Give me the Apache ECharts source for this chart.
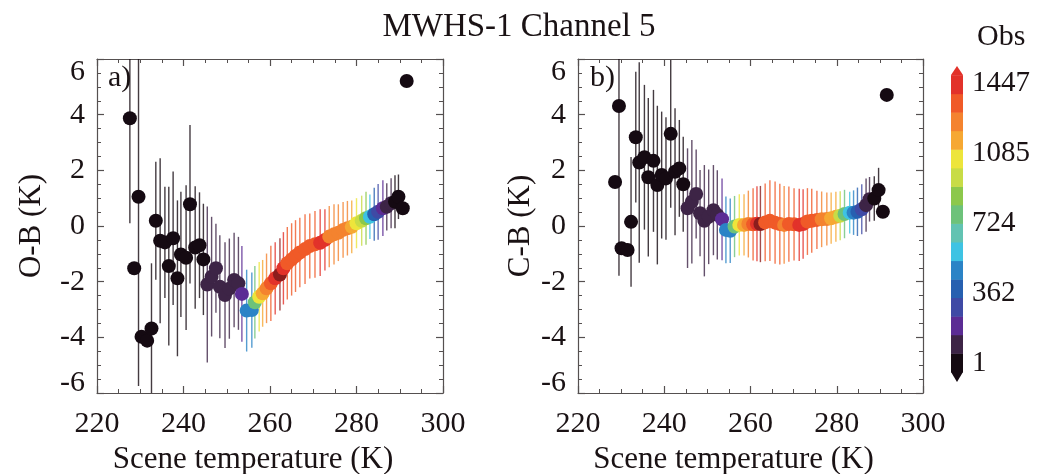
<!DOCTYPE html>
<html>
<head>
<meta charset="utf-8">
<script src="https://cdn.jsdelivr.net/npm/echarts@6.0.0/dist/echarts.min.js"></script>
<style>
  html, body { margin: 0; padding: 0; background: #fff; }
  #chart { width: 1038px; height: 474px; }
</style>
</head>
<body>
<div id="chart"></div>
<script>
// ---------------- DATA ----------------
// Panel a) O-B
const tempA = [227.6, 228.6, 229.6, 230.3, 231.6, 232.6, 233.6, 234.6, 235.7, 236.6, 237.6, 238.6, 239.4, 240.6,
  241.5, 242.7, 243.7, 244.6, 245.5, 246.5, 247.5, 248.4, 249.6, 250.6, 251.7, 252.7, 253.5, 254.6, 255.8,
  256.5, 257.5, 258.3, 259.2, 260.2, 261.2, 262.3, 263.1, 264.0, 265.0, 265.9, 266.9, 268.1, 269.2, 270.4,
  271.6, 272.7, 273.7, 274.8, 275.8, 276.9, 277.9, 278.9, 280.0, 281.2, 282.2, 283.1, 284.1, 285.0, 286.1,
  287.0, 288.0, 288.9, 289.7, 290.7, 291.6];
const obA = [3.87, -1.52, 1.05, -3.98, -4.12, -3.68, 0.19, -0.53, -0.59, -1.44, -0.44, -1.88, -1.02, -1.14,
  0.78, -0.77, -0.69, -1.20, -2.10, -1.82, -1.52, -2.18, -2.48, -2.25, -1.94, -2.06, -2.44, -3.04, -3.02,
  -2.74, -2.54, -2.42, -2.24, -2.06, -1.88, -1.74, -1.52, -1.34, -1.20, -1.08, -0.95, -0.83, -0.72, -0.66,
  -0.60, -0.50, -0.38, -0.30, -0.24, -0.14, -0.08, -0.03, 0.10, 0.19, 0.28, 0.33, 0.42, 0.51, 0.64,
  0.69, 0.82, 0.87, 1.05, 0.64, 5.21];
const errA = [3.77, 0, 6.8, 0, 0, 2.34, 2.12, 2.96, 2.0, 2.85, 2.4, 2.8, 2.25, 2.6,
  2.85, 2.2, 1.9, 2.0, 2.8, 2.15, 1.6, 1.85, 1.9, 1.8, 1.7, 1.67, 1.72, 1.47, 1.35,
  1.3, 1.25, 1.2, 1.25, 1.35, 1.3, 1.3, 1.3, 1.3, 1.3, 1.29, 1.25, 1.25, 1.17, 1.2,
  1.2, 1.1, 1.1, 1.08, 1.02, 1.0, 0.98, 0.95, 0.9, 0.9, 0.95, 0.8, 0.95, 1.0, 1.0,
  0.85, 0.9, 0.95, 0.8, 0, 0];
const obsA = [3, 1, 2, 2, 3, 4, 5, 8, 10, 12, 15, 18, 20, 22,
  25, 30, 35, 45, 60, 70, 80, 90, 100, 110, 120, 140, 220, 460, 500,
  770, 1050, 1150, 1250, 1340, 1430, 1500, 1430, 1350, 1340, 1330, 1320, 1300, 1310, 1350,
  1420, 1400, 1250, 1260, 1250, 1240, 1220, 1150, 1050, 950, 860, 580, 400, 300, 200,
  100, 60, 30, 15, 5, 1];

// Panel b) C-B
const tempB = [228.6, 229.5, 230.1, 231.5, 232.3, 233.4, 234.2, 235.4, 236.3, 237.5, 238.4, 239.4, 240.4, 241.5,
  242.5, 243.5, 244.4, 245.4, 246.4, 247.4, 248.3, 249.3, 250.3, 251.4, 252.3, 253.4, 254.3, 255.3, 256.3,
  257.4, 258.5, 259.5, 260.6, 261.5, 262.3, 263.4, 264.5, 265.7, 266.8, 267.8, 268.9, 270.1, 271.3, 272.2,
  273.2, 274.2, 275.4, 276.5, 277.7, 278.7, 279.8, 280.8, 281.8, 283.0, 283.9, 284.8, 285.8, 286.8, 287.6,
  288.7, 289.7, 290.7, 291.6];
const cbB = [1.58, 4.31, -0.80, -0.86, 0.15, 3.19, 2.28, 2.47, 1.75, 2.34, 1.47, 1.83, 1.71, 3.31,
  1.95, 2.07, 1.50, 0.64, 0.87, 1.15, 0.46, 0.19, 0.33, 0.57, 0.40, 0.24, -0.14, -0.17, -0.02,
  0.04, 0.04, 0.07, 0.06, 0.08, 0.07, 0.13, 0.19, 0.12, 0.07, 0.04, 0.07, 0.06, 0.04, 0.07,
  0.16, 0.19, 0.22, 0.24, 0.25, 0.28, 0.33, 0.37, 0.43, 0.48, 0.48, 0.51, 0.60, 0.75, 0.96,
  0.99, 1.29, 0.51, 4.71];
const errB = [0, 6.1, 0, 0, 2.33, 2.35, 3.6, 2.6, 2.85, 2.55, 2.85, 2.28, 2.2, 2.65,
  2.28, 1.74, 1.71, 2.15, 2.22, 1.6, 1.55, 2.0, 1.7, 1.62, 1.6, 1.47, 1.2, 1.16, 1.1,
  1.1, 1.1, 1.2, 1.3, 1.35, 1.37, 1.4, 1.45, 1.48, 1.45, 1.4, 1.35, 1.3, 1.3, 1.25,
  1.2, 1.15, 1.05, 1.0, 0.95, 0.92, 0.9, 0.88, 0.87, 0.75, 0.8, 0.87, 0.9, 0.96, 0.8,
  0.8, 0.8, 0, 0];
const obsB = [2, 3, 2, 2, 4, 5, 8, 10, 12, 15, 18, 20, 22, 25,
  30, 35, 45, 60, 70, 80, 90, 100, 110, 120, 140, 220, 460, 500, 770,
  1050, 1150, 1250, 1340, 1430, 1500, 1350, 1340, 1300, 1340, 1280, 1320, 1350, 1420, 1410,
  1350, 1340, 1300, 1280, 1250, 1200, 1120, 980, 780, 600, 450, 350, 250, 100, 60,
  30, 15, 5, 1];

// Colour bar (Obs) levels, bottom to top
const cbLevels = [-45, 51, 147, 243, 339, 434, 530, 626, 722, 818, 913, 1009, 1105, 1201, 1297, 1392, 1488];
const cbTicks = [1, 362, 724, 1085, 1447];
const cbTips = [-97, 1535];
const xTicksLabels = [220, 240, 260, 280, 300];

// ---------------- STYLE ----------------
const cbColors = ['#150a12', '#3d2446', '#5b2c94', '#3f4aa5', '#2760b0', '#2b83c6', '#3ec3e3', '#62c3b2',
  '#6dc27a', '#8cc84b', '#c8dc46', '#ede53b', '#f6a833', '#f4832f', '#f05a28', '#e2322a'];
const overColor = '#8c1d1d';
const FONT = 'Liberation Serif';
const TXT = '#1a1214';
const AX = '#555050';

const pieces = cbColors.map((c, i) => ({ gte: cbLevels[i], lt: cbLevels[i + 1], color: c }));
pieces.push({ gte: cbLevels[cbLevels.length - 1], color: overColor });

const dataA = tempA.map((t, i) => [t, obA[i], obsA[i], errA[i]]);
const dataB = tempB.map((t, i) => [t, cbB[i], obsB[i], errB[i]]);

function errRender(params, api) {
  const x = api.value(0), v = api.value(1), e = api.value(3);
  if (!e) return null;
  const p1 = api.coord([x, v + e]);
  const p2 = api.coord([x, v - e]);
  return {
    type: 'line',
    shape: { x1: p1[0], y1: p1[1], x2: p2[0], y2: p2[1] },
    style: { stroke: api.visual('color'), lineWidth: 1.4, opacity: 0.8 }
  };
}

function xAxes(gi) {
  const common = {
    gridIndex: gi, type: 'value', min: 220, max: 300, interval: 20,
    axisLine: { show: true, onZero: false, lineStyle: { color: AX, width: 1.2 } },
    axisTick: { show: true, inside: true, length: 7, lineStyle: { color: AX, width: 1.2 } },
    minorTick: { show: true, splitNumber: 4, length: 4, lineStyle: { color: AX, width: 1 } },
    splitLine: { show: false }
  };
  return [
    Object.assign({}, common, {
      position: 'bottom',
      axisLabel: { show: true, fontFamily: FONT, fontSize: 30, color: TXT, margin: 16,
        formatter: v => xTicksLabels.includes(v) ? String(v) : '' },
      name: 'Scene temperature (K)', nameLocation: 'middle', nameGap: 47,
      nameTextStyle: { fontFamily: FONT, fontSize: 31, color: TXT, padding: [0, 34, 0, 0] }
    }),
    Object.assign({}, common, { position: 'top', axisLabel: { show: false } })
  ];
}

function yAxes(gi, name, gap) {
  const common = {
    gridIndex: gi, type: 'value', min: -6, max: 6, interval: 2,
    axisLine: { show: true, onZero: false, lineStyle: { color: AX, width: 1.2 } },
    axisTick: { show: true, inside: true, length: 7, lineStyle: { color: AX, width: 1.2 } },
    minorTick: { show: true, splitNumber: 4, length: 4, lineStyle: { color: AX, width: 1 } },
    splitLine: { show: false }
  };
  const base = { fontFamily: FONT, fontSize: 30, color: TXT };
  return [
    Object.assign({}, common, {
      position: 'left',
      axisLabel: {
        show: true, margin: 12, fontFamily: FONT, fontSize: 30, color: TXT,
        formatter: v => v === 6 ? '{t|' + v + '}' : (v === -6 ? '{b|' + v + '}' : '{n|' + v + '}'),
        rich: {
          n: base,
          t: Object.assign({}, base, { padding: [26, 0, 0, 0] }),
          b: Object.assign({}, base, { padding: [0, 0, 20, 0] })
        }
      },
      name: name, nameLocation: 'middle', nameGap: gap,
      nameTextStyle: { fontFamily: FONT, fontSize: 31, color: TXT }
    }),
    Object.assign({}, common, { position: 'right', axisLabel: { show: false } })
  ];
}

const option = {
  backgroundColor: '#ffffff',
  animation: false,
  title: [
    { text: 'MWHS-1 Channel 5', left: 'center', top: 6,
      textStyle: { fontFamily: FONT, fontSize: 33, fontWeight: 'normal', color: TXT } },
    { text: 'Obs', left: 972, top: 17,
      textStyle: { fontFamily: FONT, fontSize: 30, fontWeight: 'normal', color: TXT } },
    { text: 'a)', left: 103, top: 58,
      textStyle: { fontFamily: FONT, fontSize: 30, fontWeight: 'normal', color: TXT } },
    { text: 'b)', left: 585, top: 58,
      textStyle: { fontFamily: FONT, fontSize: 30, fontWeight: 'normal', color: TXT } }
  ],
  grid: [
    { left: 97, top: 59, width: 346, height: 334, containLabel: false, outerBoundsMode: 'none' },
    { left: 578, top: 59, width: 345, height: 334, containLabel: false, outerBoundsMode: 'none' },
    { left: 951, top: 66, width: 12, height: 316, containLabel: false, outerBoundsMode: 'none' }
  ],
  xAxis: [].concat(xAxes(0), xAxes(1), [{ gridIndex: 2, type: 'value', min: 0, max: 1, show: false }]),
  yAxis: [].concat(yAxes(0, 'O-B (K)', 50), yAxes(1, 'C-B (K)', 42), [{
    gridIndex: 2, type: 'value', min: cbTips[0], max: cbTips[1], position: 'right',
    axisLine: { show: false }, axisTick: { show: false }, splitLine: { show: false },
    axisLabel: { show: true, customValues: cbTicks, margin: 9, fontFamily: FONT, fontSize: 29, color: TXT,
      formatter: v => String(v) }
  }]),
  visualMap: {
    type: 'piecewise', show: false, dimension: 2, seriesIndex: [0, 1, 2, 3], pieces: pieces
  },
  series: [
    { type: 'custom', xAxisIndex: 0, yAxisIndex: 0, data: dataA, renderItem: errRender, clip: true, z: 1 },
    { type: 'custom', xAxisIndex: 2, yAxisIndex: 2, data: dataB, renderItem: errRender, clip: true, z: 1 },
    { type: 'scatter', xAxisIndex: 0, yAxisIndex: 0, data: dataA, symbolSize: 14, z: 3,
      itemStyle: { opacity: 1 } },
    { type: 'scatter', xAxisIndex: 2, yAxisIndex: 2, data: dataB, symbolSize: 14, z: 3,
      itemStyle: { opacity: 1 } },
    { // colour bar segments
      type: 'custom', xAxisIndex: 4, yAxisIndex: 4,
      data: cbColors.map((c, i) => [cbLevels[i], cbLevels[i + 1], i]),
      renderItem: function (params, api) {
        const p1 = api.coord([0, api.value(1)]);
        const p2 = api.coord([1, api.value(0)]);
        return { type: 'rect', shape: { x: p1[0], y: p1[1], width: p2[0] - p1[0], height: p2[1] - p1[1] + 0.5 },
          style: { fill: cbColors[api.value(2)] } };
      }
    },
    { // colour bar end triangles
      type: 'custom', xAxisIndex: 4, yAxisIndex: 4,
      data: [[cbLevels[cbLevels.length - 1], cbTips[1], cbColors.length - 1], [cbLevels[0], cbTips[0], 0]],
      renderItem: function (params, api) {
        const a = api.coord([0, api.value(0)]);
        const b = api.coord([1, api.value(0)]);
        const tip = api.coord([0.5, api.value(1)]);
        return { type: 'polygon', shape: { points: [a, b, tip] },
          style: { fill: cbColors[api.value(2)] } };
      }
    }
  ]
};

const chart = echarts.init(document.getElementById('chart'), null, { renderer: 'canvas' });
chart.setOption(option);
</script>
</body>
</html>
